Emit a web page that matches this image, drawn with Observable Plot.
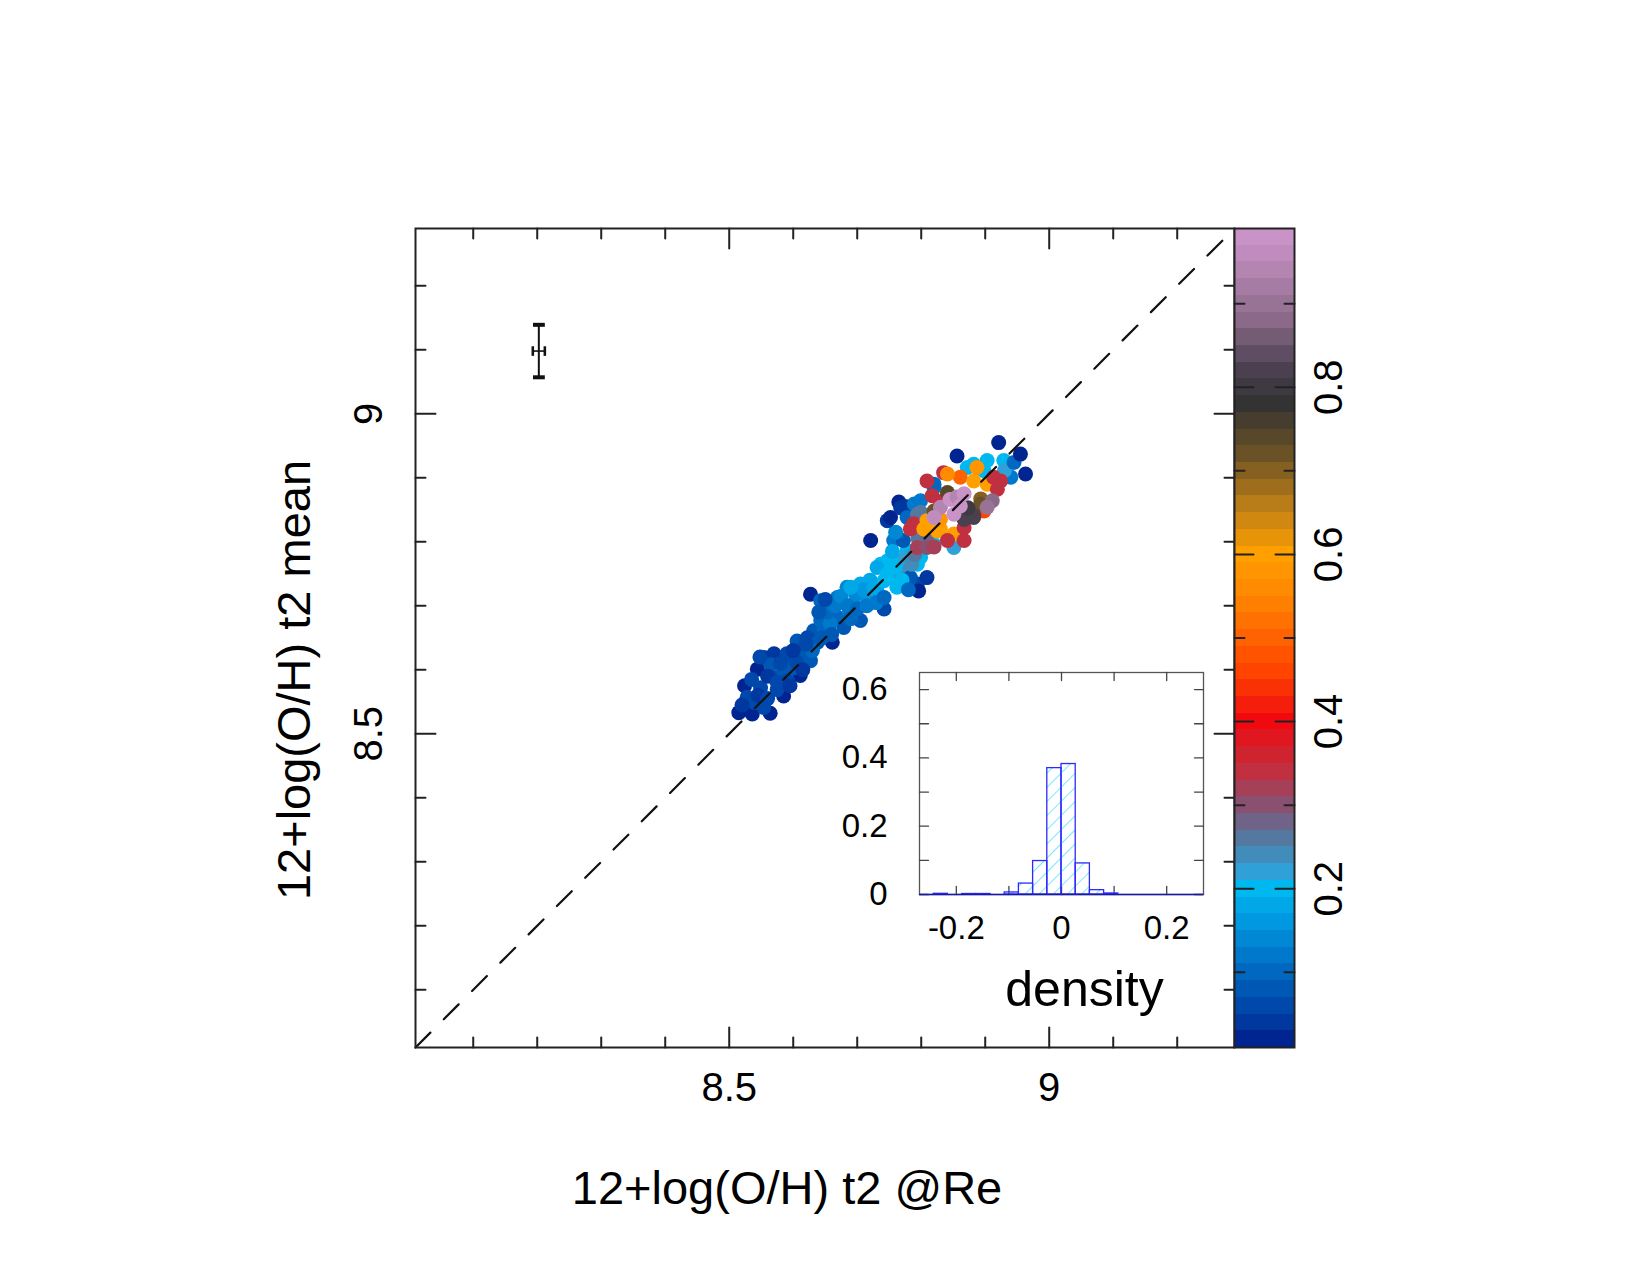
<!DOCTYPE html>
<html><head><meta charset="utf-8">
<script src="https://cdn.jsdelivr.net/npm/d3@7"></script>
<script src="https://cdn.jsdelivr.net/npm/@observablehq/plot@0.6"></script>
<style>
body{margin:0;background:#fff;}
#wrap{position:relative;width:1650px;height:1275px;overflow:hidden;background:#fff;}
#wrap svg{position:absolute;max-width:none;}
</style></head><body><div id="wrap"></div>
<script>
// ---------- data ----------
const ptX = [8.515,8.536,8.564,8.524,8.544,8.585,8.611,8.627,8.661,8.554,8.570,8.528,8.549,8.570,8.585,8.565,8.596,8.606,8.617,8.632,8.643,8.653,8.669,8.684,8.643,8.669,8.679,8.695,8.716,8.731,8.752,8.705,8.627,8.591,8.539,8.554,8.520,8.742,8.705,8.575,8.600,8.612,8.622,8.638,8.648,8.658,8.688,8.698,8.580,8.560,8.535,8.548,8.590,8.605,8.615,8.630,8.645,8.655,8.665,8.675,8.685,8.700,8.715,8.720,8.730,8.710,8.690,8.660,8.620,8.600,8.545,8.560,8.575,8.595,8.640,8.650,
8.690,8.726,8.742,8.737,8.742,8.768,8.794,8.796,8.809,8.794,8.762,8.778,8.721,8.747,8.731,8.747,8.762,8.773,8.783,8.757,8.772,8.799,8.820,8.851,8.760,8.775,8.785,8.790,8.770,8.780,8.755,8.760,8.795,8.810,
8.747,8.752,8.765,8.768,8.785,8.775,8.778,8.799,8.789,8.820,8.820,8.799,8.794,
8.903,8.882,8.929,8.940,8.872,8.930,8.898,8.945,
8.835,8.809,8.861,8.841,8.882,8.903,8.887,8.924,8.913,8.919,8.783,8.788,8.794,8.809,8.820,8.804,8.825,8.830,8.851,8.867,8.841,8.867,8.809,8.830,8.817,8.830,8.898,8.893,8.893,8.820,8.841,8.867,8.882,8.882,8.867,8.873,8.911,8.903,8.830,8.820,8.845,8.856,8.867,8.861,8.851,
8.856,8.921,8.955,8.963];
const ptY = [8.533,8.531,8.532,8.575,8.601,8.559,8.591,8.718,8.643,8.619,8.625,8.557,8.572,8.588,8.598,8.608,8.614,8.645,8.635,8.661,8.677,8.697,8.713,8.729,8.708,8.682,8.666,8.703,8.713,8.723,8.744,8.734,8.614,8.583,8.549,8.541,8.545,8.695,8.677,8.569,8.603,8.622,8.650,8.643,8.662,8.672,8.690,8.718,8.610,8.590,8.585,8.620,8.625,8.612,8.600,8.630,8.650,8.690,8.700,8.715,8.700,8.695,8.700,8.740,8.705,8.725,8.680,8.655,8.640,8.630,8.560,8.555,8.580,8.575,8.690,8.710,
8.729,8.729,8.713,8.765,8.739,8.750,8.734,8.723,8.744,8.765,8.770,8.786,8.802,8.770,8.760,8.750,8.729,8.755,8.744,8.802,8.802,8.776,8.796,8.791,8.760,8.775,8.765,8.780,8.740,8.725,8.785,8.815,8.805,8.810,
8.833,8.838,8.862,8.853,8.850,8.855,8.838,8.864,8.859,8.885,8.890,8.846,8.843,
8.927,8.921,8.927,8.901,8.916,8.911,8.911,8.924,
8.908,8.895,8.901,8.906,8.895,8.890,8.916,8.895,8.901,8.882,8.820,8.828,8.791,8.791,8.792,8.820,8.817,8.820,8.812,8.802,8.802,8.822,8.833,8.835,8.872,8.863,8.848,8.867,8.859,8.848,8.877,8.835,8.841,8.838,8.843,8.853,8.864,8.854,8.854,8.838,8.866,8.870,8.875,8.856,8.843,
8.934,8.955,8.937,8.906];
const ptC = [0.02,0.02,0.02,0.02,0.02,0.02,0.02,0.02,0.02,0.04,0.03,0.05,0.06,0.06,0.07,0.07,0.07,0.07,0.08,0.08,0.09,0.10,0.12,0.15,0.09,0.10,0.08,0.13,0.16,0.17,0.20,0.18,0.07,0.06,0.05,0.06,0.04,0.06,0.08,0.05,0.08,0.07,0.06,0.08,0.09,0.11,0.11,0.14,0.05,0.04,0.06,0.05,0.06,0.05,0.04,0.09,0.07,0.10,0.11,0.13,0.12,0.10,0.11,0.17,0.12,0.16,0.09,0.07,0.05,0.04,0.04,0.05,0.05,0.03,0.08,0.06,
0.17,0.18,0.10,0.20,0.20,0.24,0.06,0.02,0.03,0.20,0.19,0.20,0.02,0.20,0.18,0.19,0.21,0.24,0.08,0.12,0.08,0.19,0.21,0.22,0.21,0.22,0.24,0.25,0.19,0.10,0.18,0.15,0.26,0.28,
0.03,0.02,0.02,0.03,0.06,0.04,0.10,0.12,0.12,0.12,0.10,0.25,0.26,
0.20,0.21,0.19,0.12,0.20,0.22,0.20,0.10,
0.34,0.33,0.50,0.55,0.60,0.60,0.58,0.34,0.33,0.34,0.33,0.33,0.31,0.30,0.31,0.60,0.60,0.60,0.60,0.33,0.33,0.33,0.60,0.58,0.33,0.34,0.45,0.70,0.72,0.72,0.74,0.82,0.83,0.83,0.82,0.80,0.87,0.90,0.93,0.96,0.97,0.95,0.97,0.98,0.98,
0.02,0.02,0.02,0.02];

const axisDomain = [8.0098, 9.2895];
const axisTicks = [8.1, 8.2, 8.3, 8.4, 8.5, 8.6, 8.7, 8.8, 8.9, 9.0, 9.1, 9.2];
const axisLabels = [8.5, 9];
const errorBar = {x: 8.2025, y: 9.098, dx: 0.0094, dy: 0.041};

const histEdges = [-0.27,-0.243,-0.216,-0.189,-0.162,-0.135,-0.108,-0.081,-0.054,-0.027,0,0.027,0.054,0.081,0.108,0.135,0.162,0.189,0.216,0.243,0.27];
const histHeights = [0,0.002,0,0.0015,0.0015,0,0.006,0.032,0.098,0.370,0.382,0.091,0.0127,0.003,0,0,0,0,0,0];
const insetXDomain = [-0.27, 0.27];
const insetYDomain = [0, 0.65];
const insetXTicks = [-0.2, -0.1, 0, 0.1, 0.2];
const insetXLabels = [-0.2, 0, 0.2];
const insetYTicks = [0, 0.1, 0.2, 0.3, 0.4, 0.5, 0.6];
const insetYLabels = [0, 0.2, 0.4, 0.6];

const cbarDomain = [0.01, 0.99];
const cbarTicks = [0.1, 0.2, 0.3, 0.4, 0.5, 0.6, 0.7, 0.8, 0.9];
const cbarLabels = [0.2, 0.4, 0.6, 0.8];

const xLabel = "12+log(O/H) t2 @Re";
const yLabel = "12+log(O/H) t2 mean";
const insetLabel = "density";

// ---------- colour map ----------
const stopVals = [0, 0.04, 0.10, 0.16, 0.20, 0.22, 0.26, 0.30, 0.34, 0.40, 0.46, 0.54, 0.60, 0.66, 0.72, 0.78, 0.82, 0.88, 0.94, 1.0];
const stopCols = ["#001080","#0038a0","#0068c0","#0098e0","#00b8f0","#30a0d8","#5478a0","#8a5070","#c03040","#f00a10","#ff4400","#ff8000","#ffa000","#b87c18","#6b5226","#333333","#4a4050","#8a6a88","#b585b2","#d49ad2"];
function cmap(v) {
  let i = 0;
  while (i < stopVals.length - 2 && v > stopVals[i + 1]) i++;
  const t = (v - stopVals[i]) / (stopVals[i + 1] - stopVals[i]);
  return d3.interpolateRgb(stopCols[i], stopCols[i + 1])(Math.max(0, Math.min(1, t)));
}
const nBands = 49, bandW = (cbarDomain[1] - cbarDomain[0]) / nBands;
const bandIdx = d3.range(nBands);
const bandLo = i => cbarDomain[0] + i * bandW;
const bandMid = i => cbarDomain[0] + (i + 0.5) * bandW;
const thresholds = d3.range(1, nBands).map(i => cbarDomain[0] + i * bandW);
const bandColors = bandIdx.map(i => cmap(bandMid(i)));
const colorScale = {type: "threshold", domain: thresholds, range: bandColors};

const FONT = "'Liberation Sans', Arial, Helvetica, sans-serif";
const tickShape = {draw(ctx, l) { ctx.moveTo(0, 0); ctx.lineTo(0, -l); }};
const rot = {bottom: 0, top: 180, left: 90, right: -90};
function xTicks(vals, len, side, o) {
  return Plot.vector(vals, {x: d => d, frameAnchor: side, anchor: "start", length: len, rotate: rot[side], shape: tickShape, ...o});
}
function yTicks(vals, len, side, o) {
  return Plot.vector(vals, {y: d => d, frameAnchor: side, anchor: "start", length: len, rotate: rot[side], shape: tickShape, ...o});
}
const txt = {textAnchor: "middle", lineAnchor: "middle", fill: "#000"};

const wrap = document.getElementById("wrap");
function place(svg, left, top) { svg.style.left = left + "px"; svg.style.top = top + "px"; wrap.appendChild(svg); }

// ---------- main scatter ----------
const idx = d3.range(ptX.length);
const minor = axisTicks.filter(t => !axisLabels.some(m => Math.abs(m - t) < 1e-9));
const tk = {stroke: "#222", strokeWidth: 2};
const main = Plot.plot({
  width: 1650, height: 1275,
  marginLeft: 415, marginRight: 416, marginTop: 228, marginBottom: 228,
  x: {domain: axisDomain, axis: null},
  y: {domain: axisDomain, axis: null},
  color: colorScale,
  style: {fontFamily: FONT, background: "white"},
  marks: [
    Plot.dot(idx, {x: i => ptX[i], y: i => ptY[i], fill: i => ptC[i], r: 7.5}),
    Plot.line(axisDomain, {x: d => d, y: d => d, stroke: "#111", strokeWidth: 2.2, strokeDasharray: "21,19"}),
    Plot.link([errorBar], {x1: d => d.x, x2: d => d.x, y1: d => d.y - d.dy, y2: d => d.y + d.dy, stroke: "#111", strokeWidth: 2, markerStart: "tick", markerEnd: "tick"}),
    Plot.link([errorBar], {x1: d => d.x - d.dx, x2: d => d.x + d.dx, y1: d => d.y, y2: d => d.y, stroke: "#111", strokeWidth: 1.6, markerStart: "tick", markerEnd: "tick"}),
    Plot.frame({stroke: "#222", strokeWidth: 2}),
    xTicks(minor, 10, "bottom", tk), xTicks(axisLabels, 20, "bottom", tk),
    xTicks(minor, 10, "top", tk), xTicks(axisLabels, 20, "top", tk),
    yTicks(minor, 10, "left", tk), yTicks(axisLabels, 20, "left", tk),
    yTicks(minor, 10, "right", tk), yTicks(axisLabels, 20, "right", tk),
    Plot.text(axisLabels, {x: d => d, frameAnchor: "bottom", dy: 41, text: d => String(d), fontSize: 40, ...txt}),
    Plot.text(axisLabels, {y: d => d, frameAnchor: "left", dx: -46, rotate: -90, text: d => String(d), fontSize: 40, ...txt}),
    Plot.text([xLabel], {frameAnchor: "bottom", dx: -38, dy: 141, text: d => d, fontSize: 47, ...txt}),
    Plot.text([yLabel], {frameAnchor: "left", dx: -121, dy: 42, rotate: -90, text: d => d, fontSize: 47, ...txt})
  ]
});
place(main, 0, 0);

// ---------- colour bar ----------
const cbMinor = cbarTicks.filter(t => !cbarLabels.some(m => Math.abs(m - t) < 1e-9));
const cbar = Plot.plot({
  width: 200, height: 1275,
  marginLeft: 34, marginRight: 106, marginTop: 228, marginBottom: 228,
  y: {domain: cbarDomain, axis: null},
  color: colorScale,
  style: {fontFamily: FONT, background: "transparent"},
  marks: [
    Plot.rect(bandIdx, {y1: i => bandLo(i), y2: i => bandLo(i) + bandW, fill: i => bandMid(i), shapeRendering: "crispEdges"}),
    Plot.frame({stroke: "#222", strokeWidth: 2}),
    yTicks(cbMinor, 10, "left", tk), yTicks(cbarLabels, 19, "left", tk),
    yTicks(cbMinor, 10, "right", tk), yTicks(cbarLabels, 19, "right", tk),
    Plot.text(cbarLabels, {y: d => d, frameAnchor: "right", dx: 35, rotate: -90, text: d => d.toFixed(1), fontSize: 40, ...txt})
  ]
});
place(cbar, 1200, 0);

// ---------- inset histogram ----------
const hIdx = d3.range(histHeights.length);
const itk = {stroke: "#444", strokeWidth: 1.3};
const inset = Plot.plot({
  width: 380, height: 380,
  marginLeft: 79, marginRight: 17, marginTop: 32, marginBottom: 126,
  x: {domain: insetXDomain, axis: null},
  y: {domain: insetYDomain, axis: null},
  style: {fontFamily: FONT, background: "transparent"},
  marks: [
    Plot.frame({stroke: "#555", strokeWidth: 1.3}),
    xTicks(insetXTicks, 8, "top", itk), xTicks(insetXTicks, 8, "bottom", itk),
    yTicks(insetYTicks, 9, "left", itk), yTicks(insetYTicks, 9, "right", itk),
    Plot.rect(hIdx.filter(i => histHeights[i] > 0), {x1: i => histEdges[i], x2: i => histEdges[i + 1], y1: () => 0, y2: i => histHeights[i], fill: "url(#hatch)", stroke: "#2a2aff", strokeWidth: 1.3}),
    Plot.ruleY([0], {x1: () => insetXDomain[0], x2: () => insetXDomain[1], stroke: "#1a1aa8", strokeWidth: 1.5}),
    Plot.text(insetXLabels, {x: d => d, frameAnchor: "bottom", dy: 34, text: d => String(d), fontSize: 33, ...txt}),
    Plot.text(insetYLabels, {y: d => d, frameAnchor: "left", dx: -32, text: d => String(d), fontSize: 33, ...txt, textAnchor: "end"}),
    Plot.text([insetLabel], {frameAnchor: "bottom", dx: 23, dy: 95, text: d => d, fontSize: 50, ...txt})
  ]
});
const defs = d3.select(inset).insert("defs", ":first-child");
const pat = defs.append("pattern").attr("id", "hatch").attr("patternUnits", "userSpaceOnUse")
  .attr("width", 10).attr("height", 10).attr("patternTransform", "rotate(45)");
pat.append("line").attr("x1", 0).attr("y1", 0).attr("x2", 0).attr("y2", 10).attr("stroke", "#30dcff").attr("stroke-width", 1.3);
place(inset, 840, 640);
</script>
</body></html>
